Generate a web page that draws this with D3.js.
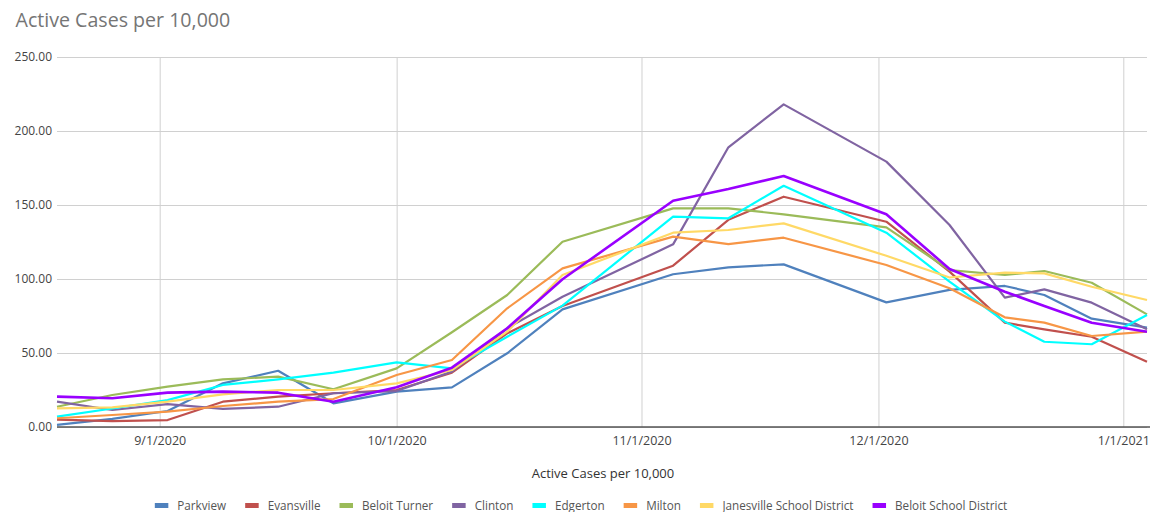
<!DOCTYPE html>
<html>
<head>
<meta charset="utf-8">
<script src="https://cdn.jsdelivr.net/npm/d3@7"></script>
<style>
  html, body { margin: 0; padding: 0; background: #fff; }
  svg { display: block; font-family: "Open Sans", "Noto Sans", sans-serif; }
</style>
</head>
<body>
<svg id="chart" width="1150" height="512"></svg>
<script>
const dates = ["2020-08-19","2020-08-26","2020-09-02","2020-09-09","2020-09-16","2020-09-23","2020-10-01","2020-10-08","2020-10-15","2020-10-22","2020-11-05","2020-11-12","2020-11-19","2020-12-02","2020-12-10","2020-12-17","2020-12-22","2020-12-28","2021-01-04"];

const seriesNames = ["Parkview","Evansville","Beloit Turner","Clinton","Edgerton","Milton","Janesville School District","Beloit School District"];

const parkview   = [1.4, 5.5, 10.8, 29.5, 38.0, 16.0, 23.9, 26.8, 49.8, 79.5, 103.2, 107.9, 109.9, 84.2, 92.6, 95.3, 89.2, 73.2, 67.1];
const evansville = [5.0, 4.0, 4.7, 17.1, 20.5, 22.8, 25.0, 36.7, 63.3, 81.8, 109.0, 140.0, 155.6, 138.7, 105.0, 70.5, 66.0, 61.0, 44.1];
const beloitTurner = [13.7, 21.6, 27.3, 32.2, 34.0, 25.5, 39.6, 64.0, 89.2, 125.2, 147.7, 147.7, 143.7, 134.9, 106.0, 102.7, 105.4, 97.5, 76.1];
const clinton    = [17.1, 11.5, 15.5, 12.2, 13.7, 22.8, 24.3, 37.4, 66.7, 88.0, 123.4, 189.0, 218.0, 179.3, 136.5, 87.4, 93.0, 84.0, 66.0];
const edgerton   = [7.0, 12.5, 18.2, 28.4, 32.2, 36.7, 43.7, 39.6, 61.0, 82.0, 142.1, 141.0, 163.0, 131.3, 98.2, 71.2, 57.6, 55.9, 75.7];
const milton     = [5.9, 8.1, 10.4, 14.2, 17.1, 18.9, 35.1, 45.3, 80.2, 107.2, 128.6, 123.6, 127.9, 109.5, 93.7, 74.1, 70.5, 61.5, 64.4];
const janesville = [12.6, 13.3, 17.1, 22.1, 25.0, 25.0, 29.5, 38.5, 64.4, 102.7, 131.3, 133.1, 137.6, 115.7, 101.0, 104.3, 103.8, 94.8, 85.8];
const beloitSD   = [20.5, 19.4, 23.2, 23.9, 23.2, 17.1, 26.8, 40.1, 66.7, 99.8, 152.9, 160.8, 169.6, 143.7, 106.8, 91.4, 81.8, 70.5, 64.4];

const seriesValues = [parkview, evansville, beloitTurner, clinton, edgerton, milton, janesville, beloitSD];
const colors = ["#4F81BD","#C0504D","#9BBB59","#8064A2","#00FFFF","#F79646","#FFD966","#9900FF"];

const yTicks = [0, 50, 100, 150, 200, 250];
const xTickDates = ["2020-09-01","2020-10-01","2020-11-01","2020-12-01","2021-01-01"];

const title = "Active Cases per 10,000";
const xTitle = "Active Cases per 10,000";

const parse = d3.timeParse("%Y-%m-%d");
const fmtX = d3.timeFormat("%-m/%-d/%Y");
const W = 1150, H = 512;
const M = {left: 57, right: 3, top: 57, bottom: 85};

const svg = d3.select("#chart");
const x = d3.scaleTime()
  .domain([parse(dates[0]), parse(dates[dates.length - 1])])
  .range([M.left, W - M.right]);
const y = d3.scaleLinear().domain([0, 250]).range([H - M.bottom, M.top]);

// title
svg.append("text").attr("x", 15.5).attr("y", 27)
  .attr("font-size", 19.6).attr("fill", "#757575").text(title);

// horizontal grid + y labels
const yAxis = d3.axisLeft(y).tickValues(yTicks).tickFormat(d3.format(".2f"))
  .tickSize(-(W - M.right - M.left)).tickPadding(5);
const gy = svg.append("g").attr("transform", `translate(${M.left},0)`).call(yAxis);
gy.select(".domain").remove();
gy.selectAll(".tick line").attr("stroke", "#d0d0d0").attr("stroke-width", 1);
gy.selectAll(".tick text").attr("font-size", 12).attr("fill", "#444")
  .attr("font-family", "Open Sans");

// vertical grid + x labels
const xAxis = d3.axisBottom(x).tickValues(xTickDates.map(parse)).tickFormat(fmtX)
  .tickSize(-(H - M.bottom - M.top)).tickPadding(9);
const gx = svg.append("g").attr("transform", `translate(0,${H - M.bottom})`).call(xAxis);
gx.select(".domain").remove();
gx.selectAll(".tick line").attr("stroke", "#d0d0d0").attr("stroke-width", 1);
gx.selectAll(".tick text").attr("font-size", 12.5).attr("fill", "#444")
  .attr("font-family", "Open Sans");

// baseline
svg.append("line")
  .attr("x1", M.left).attr("x2", W)
  .attr("y1", y(0)).attr("y2", y(0))
  .attr("stroke", "#555").attr("stroke-width", 1.5);

// lines
const line = d3.line()
  .x((d, i) => x(parse(dates[i])))
  .y(d => y(d));
seriesValues.forEach((vals, k) => {
  svg.append("path").datum(vals)
    .attr("fill", "none")
    .attr("stroke", colors[k])
    .attr("stroke-width", k === 7 ? 2.6 : 2.2)
    .attr("stroke-linejoin", "round")
    .attr("d", line);
});

// x axis title
svg.append("text").attr("x", 603).attr("y", 478).attr("text-anchor", "middle")
  .attr("font-size", 13).attr("fill", "#333").text(xTitle);

// legend
const lg = svg.append("g");
const items = lg.selectAll("g").data(seriesNames).enter().append("g");
items.append("rect").attr("width", 13.5).attr("height", 5).attr("y", -2.5)
  .attr("fill", (d, i) => colors[i]);
items.append("text").attr("x", 22.5).attr("y", 0).attr("dy", "0.35em")
  .attr("font-size", 11.7).attr("fill", "#555").text(d => d);
const gap = 19;
items.each(function() {
  const t = d3.select(this).select("text").node().getComputedTextLength();
  d3.select(this).attr("data-w", 22.5 + t);
});
const widths = items.nodes().map(n => +n.getAttribute("data-w"));
const total = d3.sum(widths) + gap * (widths.length - 1);
let start = 581 - total / 2;
items.attr("transform", (d, i) => {
  const px = start;
  start += widths[i] + gap;
  return `translate(${px},505.5)`;
});
</script>
</body>
</html>
